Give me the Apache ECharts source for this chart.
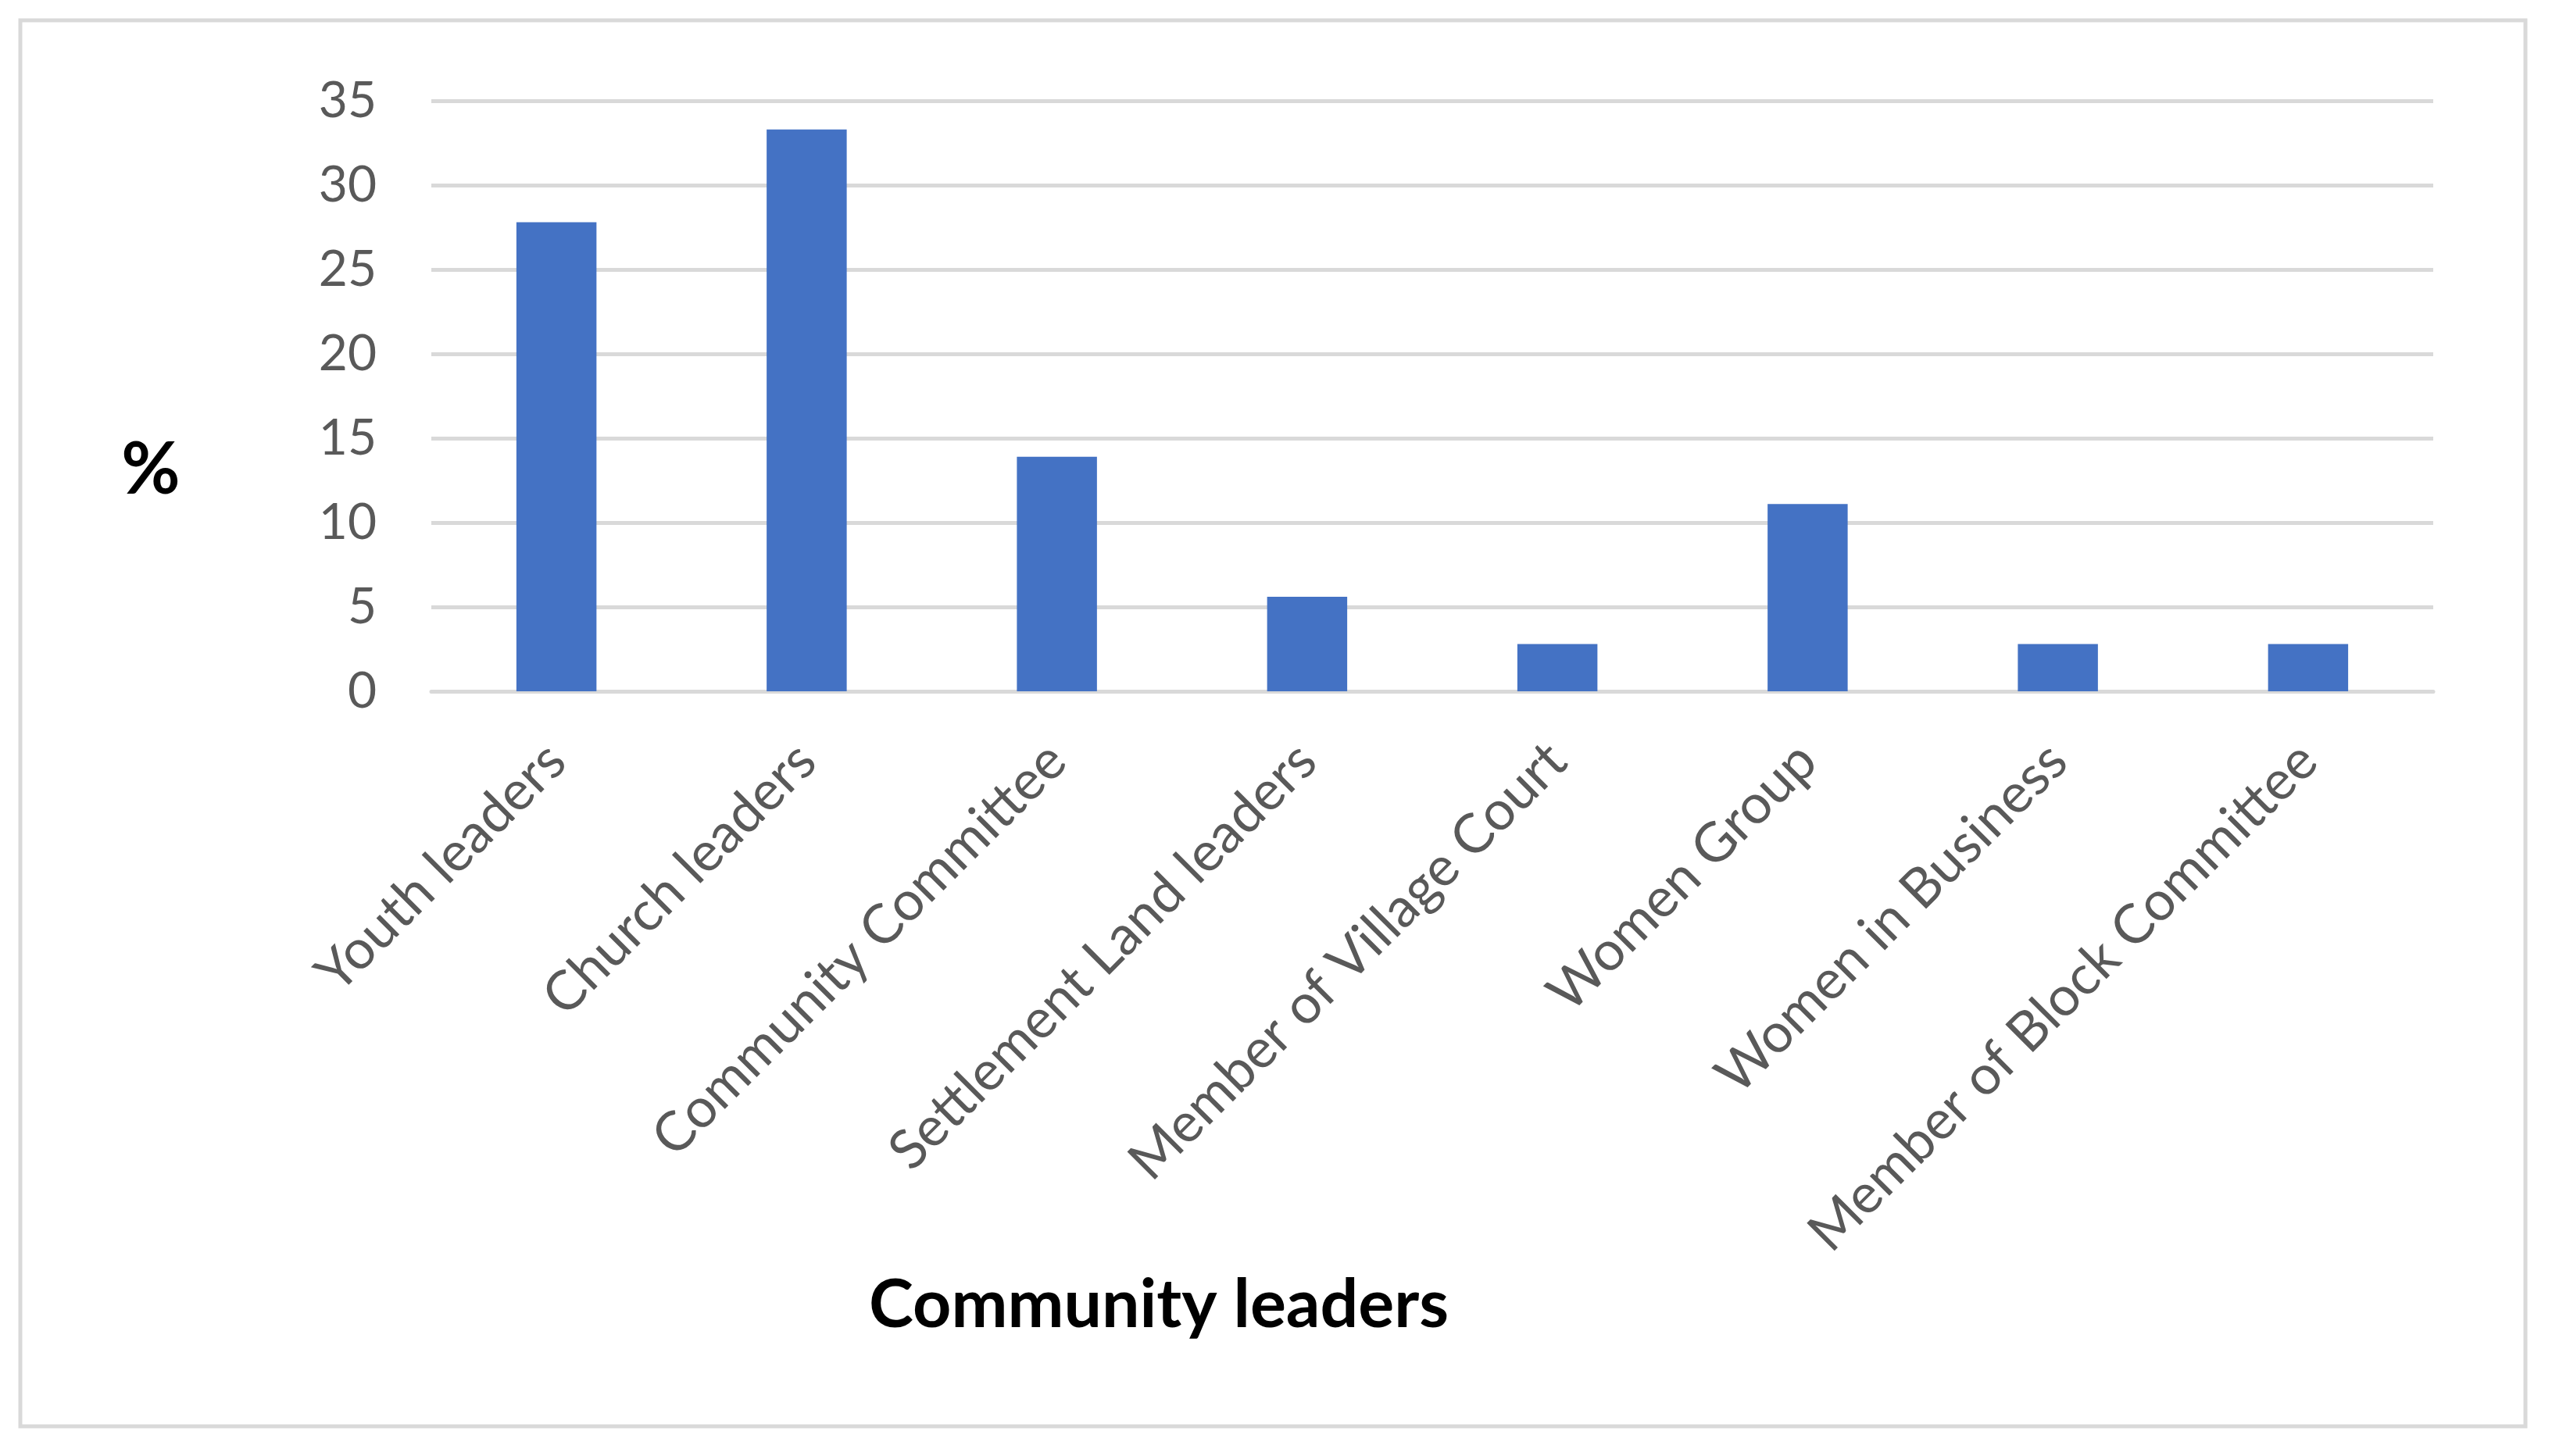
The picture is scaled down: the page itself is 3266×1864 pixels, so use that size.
<!DOCTYPE html>
<html>
<head>
<meta charset="utf-8">
<script src="https://cdn.jsdelivr.net/npm/echarts@6/dist/echarts.min.js"></script>
<style>
  html, body { margin: 0; padding: 0; background: #fff; }
  #chart { width: 3266px; height: 1864px; }
</style>
</head>
<body>
<div id="chart"></div>
<script>
// categories and values (% of respondents)
var categories = ['Youth leaders', 'Church leaders', 'Community Committee', 'Settlement Land leaders',
  'Member of Village Court', 'Women Group', 'Women in Business', 'Member of Block Committee'];
var values = [27.8, 33.3, 13.9, 5.6, 2.8, 11.1, 2.8, 2.8];
var yTicks = [0, 5, 10, 15, 20, 25, 30, 35];

var chart = echarts.init(document.getElementById('chart'));
var fontName = 'Lato';

var option = {
  animation: false,
  backgroundColor: '#ffffff',
  graphic: [{
    type: 'rect',
    shape: { x: 26, y: 26, width: 3206, height: 1800 },
    style: { fill: 'none', stroke: '#d9d9d9', lineWidth: 5 }
  }, {
    type: 'text',
    x: 193, y: 602,
    style: { text: '%', font: 'bold 92px ' + fontName, fill: '#000', align: 'center', verticalAlign: 'middle' }
  }, {
    // x axis title, placed like the original (not centred on the plot)
    type: 'text',
    x: 1483, y: 1671,
    style: { text: 'Community leaders', font: 'bold 86px ' + fontName, fill: '#000', align: 'center', verticalAlign: 'middle' }
  }],
  grid: { left: 552, right: 152, top: 129, bottom: 979, containLabel: false },
  xAxis: {
    type: 'category',
    data: categories,
    axisLine: { lineStyle: { color: '#d9d9d9', width: 5 } },
    axisTick: { show: false },
    axisLabel: {
      rotate: 45, interval: 0, margin: 78,
      fontFamily: fontName, fontSize: 70, color: '#595959'
    }
  },
  yAxis: {
    type: 'value',
    min: 0, max: 35, interval: 5,
    axisLine: { show: false },
    axisTick: { show: false },
    splitLine: { lineStyle: { color: '#d9d9d9', width: 5 } },
    axisLabel: {
      margin: 70,
      fontFamily: fontName, fontSize: 64, color: '#595959',
      formatter: function (v) { return yTicks.indexOf(v) >= 0 ? String(v) : ''; }
    }
  },
  series: [{
    type: 'bar',
    data: values,
    barWidth: '32%',
    itemStyle: { color: '#4472c4' }
  }]
};
chart.setOption(option);
</script>
</body>
</html>
